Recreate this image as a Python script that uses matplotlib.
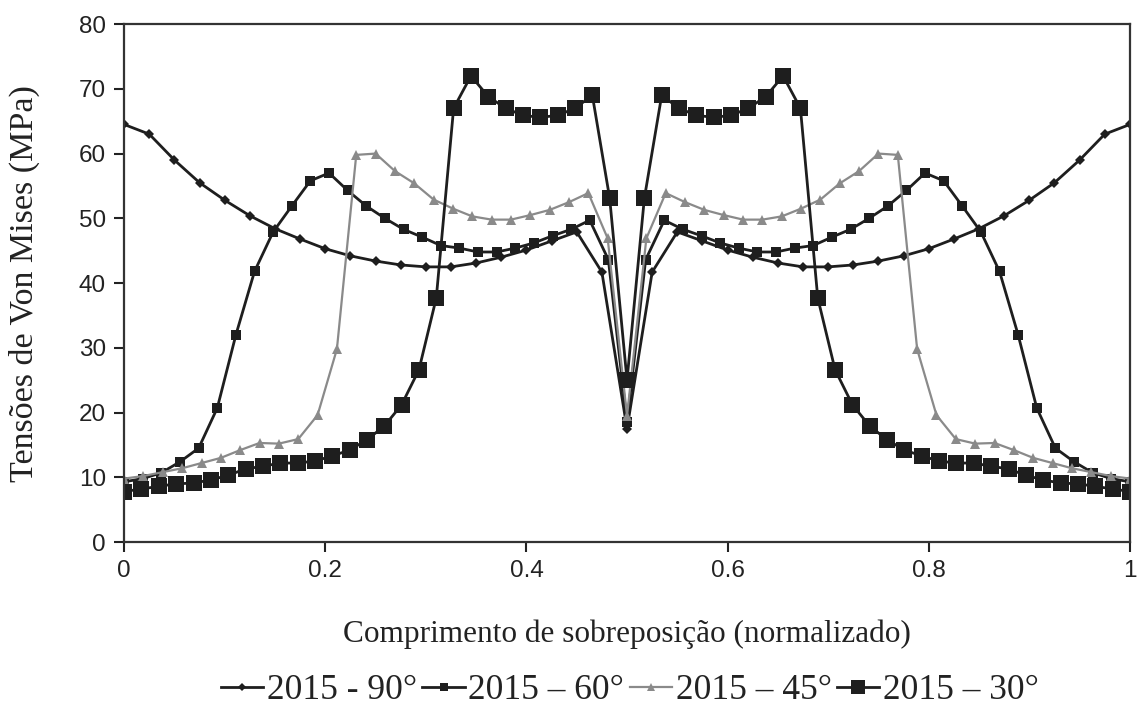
import numpy as np
import matplotlib
matplotlib.use('Agg')
import matplotlib.pyplot as plt

# half curves (x from 0 to 0.5), the chart is mirrored about 0.5
y90_half = [64.5, 63.0, 59.0, 55.5, 52.8, 50.4, 48.4, 46.8, 45.3, 44.2, 43.4,
            42.8, 42.5, 42.5, 43.1, 44.0, 45.1, 46.5, 47.9, 41.7, 17.5]
y60_half = [9.3, 9.8, 10.7, 12.4, 14.5, 20.7, 32.0, 41.8, 47.9, 51.9, 55.8,
            57.0, 54.3, 51.9, 50.0, 48.3, 47.1, 45.8, 45.4, 44.8, 44.8, 45.4,
            46.2, 47.3, 48.3, 49.7, 43.6, 18.5]
y45_half = [9.8, 10.2, 10.8, 11.4, 12.2, 13.0, 14.2, 15.3, 15.2, 15.9, 19.6,
            29.8, 59.8, 60.0, 57.3, 55.4, 52.9, 51.5, 50.3, 49.8, 49.8, 50.5,
            51.3, 52.5, 53.9, 46.9, 19.5]
y30_half = [7.8, 8.2, 8.6, 9.0, 9.1, 9.6, 10.3, 11.3, 11.7, 12.2, 12.2, 12.5,
            13.3, 14.2, 15.8, 17.9, 21.2, 26.6, 37.7, 67.0, 72.0, 68.8, 67.0,
            65.9, 65.6, 65.9, 67.0, 69.0, 53.1, 25.0]

labels = ['2015 - 90°', '2015 – 60°', '2015 – 45°', '2015 – 30°']


def full(half):
    half = list(half)
    return np.array(half + half[-2::-1])


series = [full(y90_half), full(y60_half), full(y45_half), full(y30_half)]
styles = [
    dict(color='#1e1e1e', marker='D', ms=5, lw=2.0),
    dict(color='#1e1e1e', marker='s', ms=7.5, lw=2.0),
    dict(color='#8a8a8a', marker='^', ms=6.5, lw=1.6),
    dict(color='#1e1e1e', marker='s', ms=12, lw=2.0),
]

fig = plt.figure(figsize=(11.39, 7.09), dpi=100)
ax = fig.add_axes([0.109, 0.2355, 0.883, 0.7305])

for y, lab, st in zip(series, labels, styles):
    x = np.linspace(0, 1, len(y))
    ax.plot(x, y, label=lab, linestyle='-', markeredgewidth=0, **st)

ax.set_xlim(0, 1)
ax.set_ylim(0, 80)
ax.set_xticks([0, 0.2, 0.4, 0.6, 0.8, 1])
ax.set_xticklabels(['0', '0.2', '0.4', '0.6', '0.8', '1'])
ax.set_yticks(range(0, 81, 10))
for lbl in ax.get_xticklabels() + ax.get_yticklabels():
    lbl.set_fontfamily('Liberation Sans')
    lbl.set_fontsize(17.5)
    lbl.set_color('#222222')
ax.tick_params(direction='out', length=7, width=1.5, color='#222222', pad=6)
for s in ax.spines.values():
    s.set_linewidth(1.6)
    s.set_color('#333333')

ax.set_xlabel('Comprimento de sobreposição (normalizado)', family='Liberation Serif',
              fontsize=22.5, color='#222222', labelpad=27)
ax.set_ylabel('Tensões de Von Mises (MPa)', family='Liberation Serif',
              fontsize=24.5, color='#222222', labelpad=28)

leg = fig.legend(loc='center', bbox_to_anchor=(0.553, 0.026), ncol=4, frameon=False,
                 prop={'family': 'Liberation Serif', 'size': 25.5},
                 handlelength=1.2, handletextpad=0.1, columnspacing=0.15,
                 markerscale=0.8, borderpad=0, borderaxespad=0)
for t in leg.get_texts():
    t.set_color('#222222')

fig.savefig('out.png', dpi=100)
